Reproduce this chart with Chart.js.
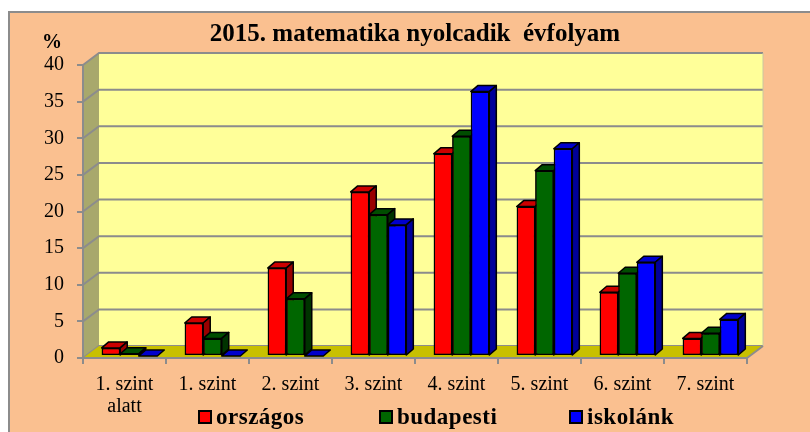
<!DOCTYPE html>
<html>
<head>
<meta charset="utf-8">
<script src="https://cdn.jsdelivr.net/npm/chart.js@4.4.0/dist/chart.umd.min.js"></script>
<style>
  html, body { margin: 0; padding: 0; background: #fff; }
  #wrap { width: 810px; height: 432px; }
</style>
</head>
<body>
<div id="wrap"><canvas id="myChart" width="810" height="432"></canvas></div>
<script>
// 2015, matematika, 8. évfolyam - tanulók megoszlása képességszintek szerint (%)
var levels = [['1. szint', 'alatt'], '1. szint', '2. szint', '3. szint', '4. szint', '5. szint', '6. szint', '7. szint'];
var orszagos  = [1.1, 4.5, 12.0, 22.4, 27.6, 20.4, 8.7, 2.4];
var budapesti = [0.3, 2.4, 7.8, 19.3, 30.0, 25.3, 11.3, 3.1];
var iskolank  = [0, 0, 0, 17.9, 36.1, 28.3, 12.8, 5.0];
var seriesNames = ['országos', 'budapesti', 'iskolánk'];
var yMax = 40, yStep = 5;

var titleText = '2015. matematika nyolcadik  évfolyam';

var frontColors = ['#ff0000', '#006600', '#0000ff'];
var topColors   = ['#cc0000', '#004d00', '#0000cc'];
var sideColors  = ['#990000', '#003300', '#000099'];

var serif = '"Liberation Serif", "Times New Roman", serif';
var gray = '#8c8c8c';

var DX = 16, DY = 12;   // depth of the walls/floor
var BX = 7, BY = 6;     // depth of the columns
var COL_DX = 5, COL_DY = -2;   // columns stand a little way back on the floor

function poly(ctx, pts) {
    ctx.beginPath();
    ctx.moveTo(pts[0][0], pts[0][1]);
    for (var i = 1; i < pts.length; i++) ctx.lineTo(pts[i][0], pts[i][1]);
    ctx.closePath();
}

// walls, floor, 3D column faces, title and legend
var chart3d = {
    id: 'chart3d',
    beforeDraw: function (chart) {
        var ctx = chart.ctx, a = chart.chartArea, y = chart.scales.y;
        ctx.save();
        ctx.fillStyle = '#fff';
        ctx.fillRect(0, 0, chart.width, chart.height);
        ctx.fillStyle = '#fac090';
        ctx.fillRect(9, 12, chart.width, chart.height);
        ctx.strokeStyle = gray;
        ctx.lineWidth = 2;
        ctx.beginPath();
        ctx.moveTo(9, chart.height);
        ctx.lineTo(9, 12);
        ctx.lineTo(chart.width, 12);
        ctx.stroke();

        // side wall
        ctx.fillStyle = '#a8a86c';
        poly(ctx, [[a.left, a.bottom], [a.left, a.top], [a.left + DX, a.top - DY], [a.left + DX, a.bottom - DY]]);
        ctx.fill();
        // back wall
        ctx.fillStyle = '#ffff99';
        ctx.fillRect(a.left + DX, a.top - DY, a.right - a.left, a.bottom - a.top);

        // gridlines on side and back wall
        ctx.strokeStyle = gray;
        ctx.lineWidth = 2;
        for (var v = 0; v <= yMax; v += yStep) {
            var py = y.getPixelForValue(v);
            ctx.beginPath();
            ctx.moveTo(a.left, py);
            ctx.lineTo(a.left + DX, py - DY);
            ctx.lineTo(a.right + DX, py - DY);
            ctx.stroke();
        }
        ctx.beginPath();
        ctx.moveTo(a.right + DX, a.top - DY);
        ctx.lineTo(a.right + DX, a.bottom - DY);
        ctx.lineWidth = 1;
        ctx.strokeStyle = '#c8c8a0';
        ctx.stroke();

        // floor
        ctx.fillStyle = '#c8c000';
        poly(ctx, [[a.left, a.bottom], [a.right, a.bottom], [a.right + DX, a.bottom - DY], [a.left + DX, a.bottom - DY]]);
        ctx.fill();
        ctx.strokeStyle = gray;
        ctx.lineWidth = 2;
        ctx.beginPath();
        ctx.moveTo(a.right, a.bottom);
        ctx.lineTo(a.right + DX, a.bottom - DY);
        ctx.stroke();
        ctx.restore();
    },
    beforeDatasetsDraw: function (chart) {
        chart.ctx.save();
        chart.ctx.translate(COL_DX, COL_DY);
    },
    afterDatasetsDraw: function (chart) {
        var ctx = chart.ctx;
        ctx.save();
        ctx.lineWidth = 1.5;
        ctx.strokeStyle = '#000';
        ctx.lineJoin = 'round';
        for (var j = 0; j < levels.length; j++) {
            for (var i = 0; i < chart.data.datasets.length; i++) {
                var bar = chart.getDatasetMeta(i).data[j];
                bar.draw(ctx);
                var p = bar.getProps(['x', 'y', 'base', 'width'], true);
                var l = p.x - p.width / 2, r = p.x + p.width / 2, t = p.y, b = p.base;
                // top face
                ctx.fillStyle = topColors[i];
                poly(ctx, [[l, t], [l + BX, t - BY], [r + BX, t - BY], [r, t]]);
                ctx.fill();
                ctx.stroke();
                // right side face
                if (b - t > 0.5) {
                    ctx.fillStyle = sideColors[i];
                    poly(ctx, [[r, t], [r + BX, t - BY], [r + BX, b - BY], [r, b]]);
                    ctx.fill();
                    ctx.stroke();
                }
            }
        }
        ctx.restore();
        ctx.restore();   // undo the column offset from beforeDatasetsDraw
    },
    afterDraw: function (chart) {
        var ctx = chart.ctx;
        ctx.save();
        ctx.fillStyle = '#000';
        ctx.textBaseline = 'middle';
        ctx.textAlign = 'center';
        ctx.font = 'bold 25px ' + serif;
        ctx.fillText(titleText, 415, 35);
        ctx.font = 'bold 20px ' + serif;
        ctx.fillText('%', 52, 43);

        // legend
        var legendX = [199, 380, 570];
        ctx.textAlign = 'left';
        ctx.textBaseline = 'alphabetic';
        ctx.font = 'bold 23px ' + serif;
        ctx.letterSpacing = '0.5px';
        chart.data.datasets.forEach(function (ds, i) {
            ctx.fillStyle = ds.backgroundColor;
            ctx.fillRect(legendX[i], 411, 12, 12);
            ctx.lineWidth = 2;
            ctx.strokeStyle = '#000';
            ctx.strokeRect(legendX[i], 411, 12, 12);
            ctx.fillStyle = '#000';
            ctx.fillText(ds.label, legendX[i] + 17, 424);
        });
        ctx.restore();
    }
};

function makeDataset(i, values) {
    return {
        label: seriesNames[i],
        data: values,
        backgroundColor: frontColors[i],
        borderColor: '#000',
        borderWidth: 1.5,
        borderSkipped: false
    };
}

var ctx = document.getElementById('myChart').getContext('2d');
var myChart = new Chart(ctx, {
    type: 'bar',
    data: {
        labels: levels,
        datasets: [makeDataset(0, orszagos), makeDataset(1, budapesti), makeDataset(2, iskolank)]
    },
    options: {
        responsive: false,
        animation: false,
        layout: { padding: { top: 65, right: 63, left: 0, bottom: 0 } },
        categoryPercentage: 0.67,
        barPercentage: 1.0,
        plugins: {
            legend: { display: false },
            title: { display: false },
            tooltip: { enabled: false }
        },
        scales: {
            x: {
                ticks: { color: '#000', font: { family: serif, size: 20, lineHeight: 1.1 }, padding: 10, maxRotation: 0, autoSkip: false },
                grid: { drawOnChartArea: false, drawTicks: true, tickLength: 6, color: gray, lineWidth: 2, offset: true },
                border: { display: true, color: gray, width: 2 },
                afterFit: function (s) { s.height = 74; }
            },
            y: {
                min: 0,
                max: yMax,
                ticks: { stepSize: yStep, color: '#000', font: { family: serif, size: 20 }, padding: 13 },
                grid: { drawOnChartArea: false, drawTicks: true, tickLength: 6, color: gray, lineWidth: 2 },
                border: { display: true, color: gray, width: 2 },
                afterFit: function (s) { s.width = 83; }
            }
        }
    },
    plugins: [chart3d]
});
</script>
</body>
</html>
